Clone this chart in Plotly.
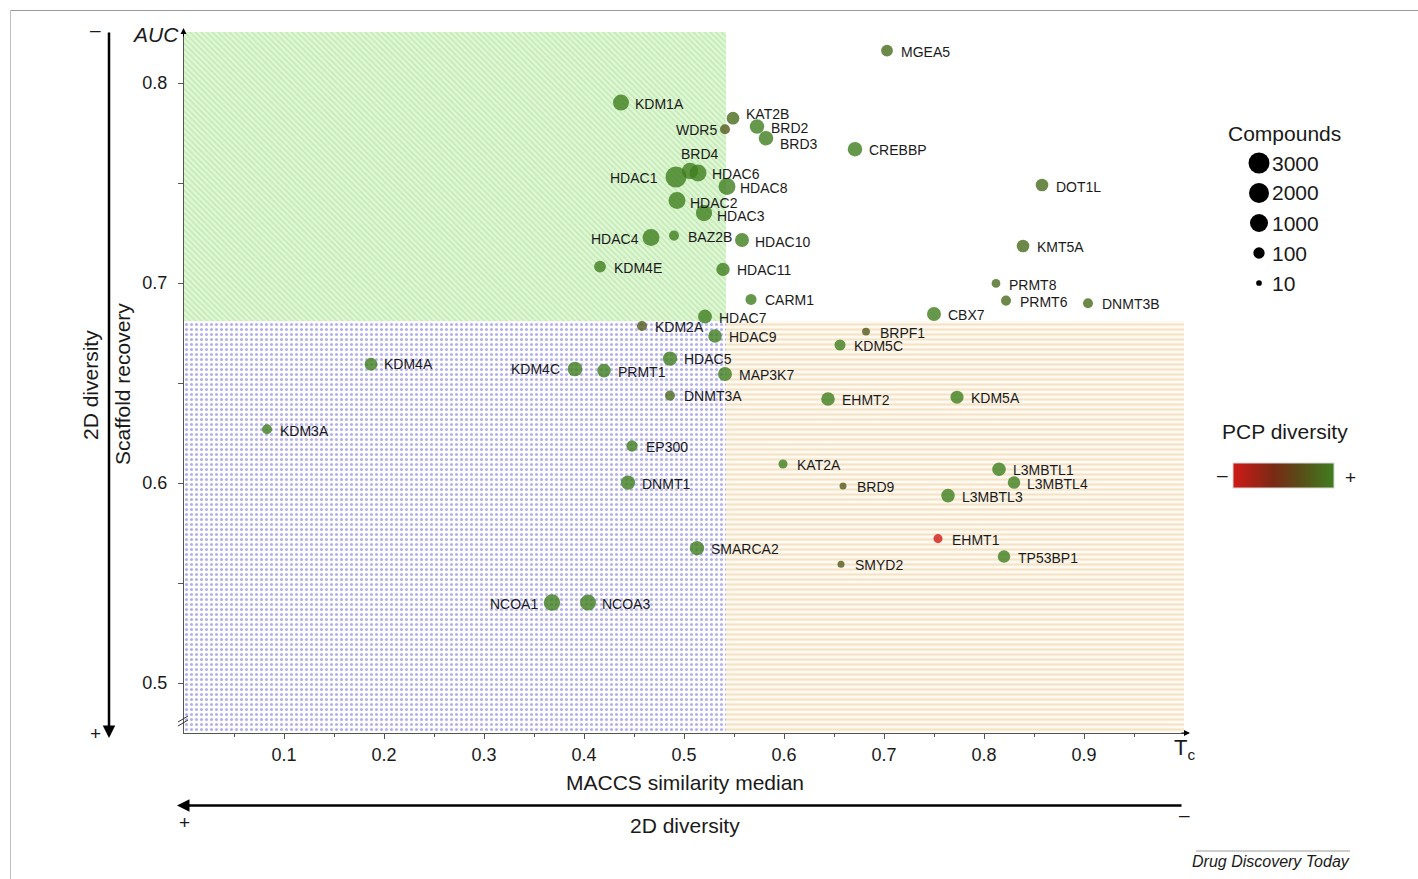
import numpy as np
import plotly.graph_objects as go

# ---- data -----------------------------------------------------------------
targets = [
    "MGEA5", "KDM1A", "KAT2B", "WDR5", "BRD2", "BRD3", "CREBBP", "BRD4",
    "HDAC1", "HDAC6", "HDAC8", "HDAC2", "HDAC3", "HDAC4", "BAZ2B", "HDAC10",
    "KDM4E", "HDAC11", "CARM1", "HDAC7", "KDM2A", "HDAC9", "BRPF1", "KDM5C",
    "HDAC5", "PRMT1", "KDM4C", "MAP3K7", "DNMT3A", "EHMT2", "KDM5A", "EP300",
    "KAT2A", "DNMT1", "BRD9", "L3MBTL1", "L3MBTL4", "L3MBTL3", "EHMT1",
    "TP53BP1", "SMARCA2", "SMYD2", "NCOA1", "NCOA3", "KDM4A", "KDM3A", "CBX7",
    "PRMT8", "PRMT6", "DNMT3B", "KMT5A", "DOT1L",
]
maccs_median = [
    0.703, 0.437, 0.549, 0.541, 0.573, 0.582, 0.671, 0.506,
    0.492, 0.514, 0.543, 0.493, 0.520, 0.467, 0.490, 0.558,
    0.416, 0.539, 0.567, 0.521, 0.458, 0.531, 0.682, 0.656,
    0.486, 0.420, 0.391, 0.541, 0.486, 0.644, 0.773, 0.448,
    0.599, 0.444, 0.659, 0.815, 0.830, 0.764, 0.754,
    0.820, 0.513, 0.657, 0.368, 0.404, 0.187, 0.083, 0.750,
    0.812, 0.822, 0.904, 0.839, 0.858,
]
scaffold_auc = [
    0.8162, 0.7902, 0.7824, 0.7769, 0.7782, 0.7724, 0.7669, 0.7560,
    0.7530, 0.7550, 0.7483, 0.7413, 0.7350, 0.7228, 0.7237, 0.7215,
    0.7082, 0.7068, 0.6918, 0.6832, 0.6785, 0.6735, 0.6757, 0.6690,
    0.6622, 0.6562, 0.6570, 0.6545, 0.6437, 0.6420, 0.6429, 0.6185,
    0.6095, 0.6002, 0.5985, 0.6069, 0.6002, 0.5937, 0.5722,
    0.5632, 0.5674, 0.5594, 0.5402, 0.5402, 0.6594, 0.6269, 0.6845,
    0.6998, 0.6912, 0.6899, 0.7185, 0.7490,
]
compounds = [
    120, 500, 160, 60, 300, 300, 300, 550,
    3000, 700, 700, 700, 550, 700, 60, 250,
    120, 200, 90, 250, 60, 220, 25, 90,
    280, 220, 320, 250, 60, 220, 180, 100,
    40, 280, 17, 220, 150, 220, 40,
    150, 280, 17, 600, 500, 160, 60, 250,
    35, 60, 60, 160, 160,
]
pcp_diversity = [
    0.88, 1.0, 0.88, 0.75, 1.0, 1.0, 1.0, 1.0,
    1.0, 1.0, 1.0, 1.0, 1.0, 1.0, 1.0, 1.0,
    1.0, 1.0, 1.0, 1.0, 0.75, 1.0, 0.75, 1.0,
    1.0, 1.0, 1.0, 1.0, 0.88, 1.0, 1.0, 1.0,
    1.0, 1.0, 0.75, 1.0, 1.0, 1.0, 0.0,
    1.0, 1.0, 0.75, 1.0, 1.0, 1.0, 1.0, 1.0,
    0.88, 0.88, 0.88, 0.88, 0.88,
]

legend_compounds = [3000, 2000, 1000, 100, 10]
x_ticks = [0.1, 0.2, 0.3, 0.4, 0.5, 0.6, 0.7, 0.8, 0.9]
x_minor = [0.05, 0.15, 0.25, 0.35, 0.45, 0.55, 0.65, 0.75, 0.85, 0.95]
y_ticks = [0.5, 0.6, 0.7, 0.8]
y_minor = [0.55, 0.65, 0.75]

# quadrant thresholds (Tc median / AUC)
tc_split = 0.542
auc_split = 0.681
x_range = [0.0, 1.002]
y_range = [0.475, 0.8255]

# ---- geometry helpers -----------------------------------------------------
W, H = 1418, 879
ML, MR, MT, MB = 184, 232, 32, 146
PW = W - ML - MR
PH = H - MT - MB


def px(xp):
    return (xp - ML) / PW


def py(yp):
    return (H - MB - yp) / PH


def marker_diameter(n):
    n = np.asarray(n, dtype=float)
    return np.interp(np.log10(n), [1, 2, 3, np.log10(2000), np.log10(3000)],
                     [5.7, 11.3, 18.0, 20.0, 21.0])


FONT = "Liberation Sans, Arial, Helvetica, sans-serif"
TXT = "#1a1a1a"
pcp_scale = [[0.0, "#cf1a17"], [0.4, "#7a2a14"], [0.65, "#5a4a18"], [1.0, "#3f7e1e"]]

fig = go.Figure()

# ---- background regions ---------------------------------------------------
def region(x0, x1, y0, y1, pattern):
    fig.add_trace(go.Scatter(
        x=[x0, x1, x1, x0, x0], y=[y0, y0, y1, y1, y0], mode="lines",
        fill="toself", line=dict(width=0), fillpattern=pattern,
        hoverinfo="skip", showlegend=False))


region(x_range[0], tc_split, auc_split, y_range[1],
       dict(shape="\\", fgcolor="#a2e08c", bgcolor="#e2f7d9", size=4, solidity=0.45))
region(x_range[0], tc_split, y_range[0], auc_split,
       dict(shape=".", fgcolor="#6a62dc", bgcolor="#ffffff", size=5, solidity=0.3))
region(tc_split, 1.0, y_range[0], auc_split,
       dict(shape="-", fgcolor="#e9c994", bgcolor="#fefaf2", size=5, solidity=0.4))

# ---- targets --------------------------------------------------------------
fig.add_trace(go.Scatter(
    x=maccs_median, y=scaffold_auc, mode="markers", text=targets,
    marker=dict(size=marker_diameter(compounds), sizemode="diameter",
                color=pcp_diversity, colorscale=pcp_scale, cmin=0, cmax=1,
                opacity=0.8, line=dict(width=0),
                showscale=True,
                colorbar=dict(orientation="h", x=px(1283.5), y=py(475.5),
                              xanchor="center", yanchor="middle",
                              len=101, lenmode="pixels", thickness=25,
                              thicknessmode="pixels", xpad=0, ypad=0,
                              showticklabels=False, ticks="",
                              outlinewidth=1, outlinecolor="#d8d8d8")),
    hoverinfo="text", showlegend=False))

# label placement: (anchor, dx px, dy px downward)
label_pos = {
    "WDR5": ("right", -8, 1), "HDAC1": ("right", -18, 1), "HDAC4": ("right", -12, 2),
    "KDM4C": ("right", -15, 0), "NCOA1": ("right", -14, 1), "BRD4": ("center", 10, -17),
    "KAT2B": ("left", 13, -4), "BRD3": ("left", 14, 6), "HDAC2": ("left", 13, 2.5),
    "HDAC3": ("left", 13, 3), "HDAC8": ("left", 13, 1.5), "HDAC10": ("left", 13, 2),
    "L3MBTL1": ("left", 13.5, 1), "L3MBTL4": ("left", 13, 1.5),
    "PRMT8": ("left", 13, 2), "DOT1L": ("left", 14, 2),
    "KDM3A": ("left", 13, 1.5), "HDAC5": ("left", 13.5, 0), "DNMT3A": ("left", 13.5, 0),
    "KDM4A": ("left", 13, 0), "KDM2A": ("left", 12.5, 1), "HDAC9": ("left", 14, 1),
}
annotations = []
for name, xv, yv in zip(targets, maccs_median, scaffold_auc):
    anchor, dx, dy = label_pos.get(name, ("left", 13.5, 1))
    annotations.append(dict(
        x=xv, y=yv, xref="x", yref="y", text=name, showarrow=False,
        xanchor=anchor, yanchor="middle", xshift=dx, yshift=-dy,
        borderpad=0, borderwidth=0, font=dict(size=14, color=TXT, family=FONT)))

# ---- axis texts -------------------------------------------------------------
def note(text, xp, yp, size, xanchor="center", yanchor="middle", angle=0, color=TXT):
    annotations.append(dict(
        x=px(xp), y=py(yp), xref="paper", yref="paper", text=text, showarrow=False,
        xanchor=xanchor, yanchor=yanchor, textangle=angle, borderpad=0, borderwidth=0,
        font=dict(size=size, color=color, family=FONT)))


note("<i>AUC</i>", 179, 35, 21, xanchor="right")
note("T<sub>c</sub>", 1184, 749, 22)
note("MACCS similarity median", 684.5, 782, 21)
note("2D diversity", 684.5, 825, 21)
note("+", 184, 823, 19)
note("\u2013", 1184, 815, 19)
note("2D diversity", 90, 385, 21, angle=-90)
note("Scaffold recovery", 122, 384, 21, angle=-90)
note("\u2013", 95, 30, 19)
note("+", 95, 734, 19)
note("Compounds", 1284, 133, 21)
note("PCP diversity", 1284.5, 432, 21)
note("\u2013", 1222, 474, 19)
note("+", 1350, 477, 19)
note("<i>Drug Discovery Today</i>", 1350, 861, 16, xanchor="right")

# size legend labels
legend_rows = [163 + 30 * i for i in range(len(legend_compounds))]
for val, yp in zip(legend_compounds, legend_rows):
    note(str(val), 1272, yp, 21, xanchor="left")

# ---- arrows -------------------------------------------------------------------
def arrow(x_head, y_head, x_tail, y_tail, width, size=1.0):
    annotations.append(dict(
        x=px(x_head), y=py(y_head), xref="paper", yref="paper",
        ax=x_tail - x_head, ay=y_tail - y_head, axref="pixel", ayref="pixel",
        text="", showarrow=True, arrowhead=2, arrowsize=size,
        arrowwidth=width, arrowcolor="#000000"))


arrow(109, 738, 109, 31, 2.5, 1.0)       # vertical "2D diversity" arrow
arrow(177, 805.5, 1183, 805.5, 2.5, 1.0)  # horizontal "2D diversity" arrow
arrow(1190, 733, 1180, 733, 1, 1.2)      # x-axis arrow
arrow(183.5, 28, 183.5, 38, 1, 1.2)      # y-axis arrow

# ---- shapes -------------------------------------------------------------------
shapes = []
for val, yp in zip(legend_compounds, legend_rows):
    r = float(marker_diameter(val)) / 2
    shapes.append(dict(type="circle", xref="paper", yref="paper",
                       xsizemode="pixel", ysizemode="pixel",
                       xanchor=px(1259), yanchor=py(yp),
                       x0=-r, x1=r, y0=-r, y1=r,
                       fillcolor="#000000", line=dict(width=0)))

# axis break marks on the y axis
for off in (0, 4):
    shapes.append(dict(type="line", xref="paper", yref="paper",
                       x0=px(178), y0=py(726 - off), x1=px(188), y1=py(720 - off),
                       line=dict(color="#333333", width=1)))

# frame lines and source rule
shapes.append(dict(type="line", xref="paper", yref="paper",
                   x0=px(10), y0=py(10.5), x1=px(1418), y1=py(10.5),
                   line=dict(color="#9a9a9a", width=1)))
shapes.append(dict(type="line", xref="paper", yref="paper",
                   x0=px(10.5), y0=py(10), x1=px(10.5), y1=py(879),
                   line=dict(color="#bdbdbd", width=1)))
shapes.append(dict(type="line", xref="paper", yref="paper",
                   x0=px(1196), y0=py(851), x1=px(1350), y1=py(851),
                   line=dict(color="#9a9a9a", width=1)))

axis_common = dict(showgrid=False, zeroline=False, showline=True, linecolor="#555555",
                   linewidth=1, ticks="outside", tickcolor="#555555", ticklen=5,
                   tickwidth=1, tickfont=dict(size=18, color=TXT, family=FONT))

fig.update_layout(
    width=W, height=H,
    margin=dict(l=ML, r=MR, t=MT, b=MB, pad=0),
    paper_bgcolor="#ffffff", plot_bgcolor="#ffffff",
    showlegend=False,
    xaxis=dict(range=x_range, tickvals=x_ticks, ticktext=[f"{v:.1f}" for v in x_ticks],
               minor=dict(tickvals=x_minor, ticklen=3, ticks="outside", tickcolor="#555555"),
               **axis_common),
    yaxis=dict(range=y_range, tickvals=y_ticks, ticktext=[f"{v:.1f}" for v in y_ticks],
               minor=dict(tickvals=y_minor, ticklen=5, ticks="outside", tickcolor="#555555"),
               ticklabelstandoff=7, **axis_common),
    annotations=annotations,
    shapes=shapes,
    font=dict(family=FONT, color=TXT),
)

fig.write_html("out.html")
